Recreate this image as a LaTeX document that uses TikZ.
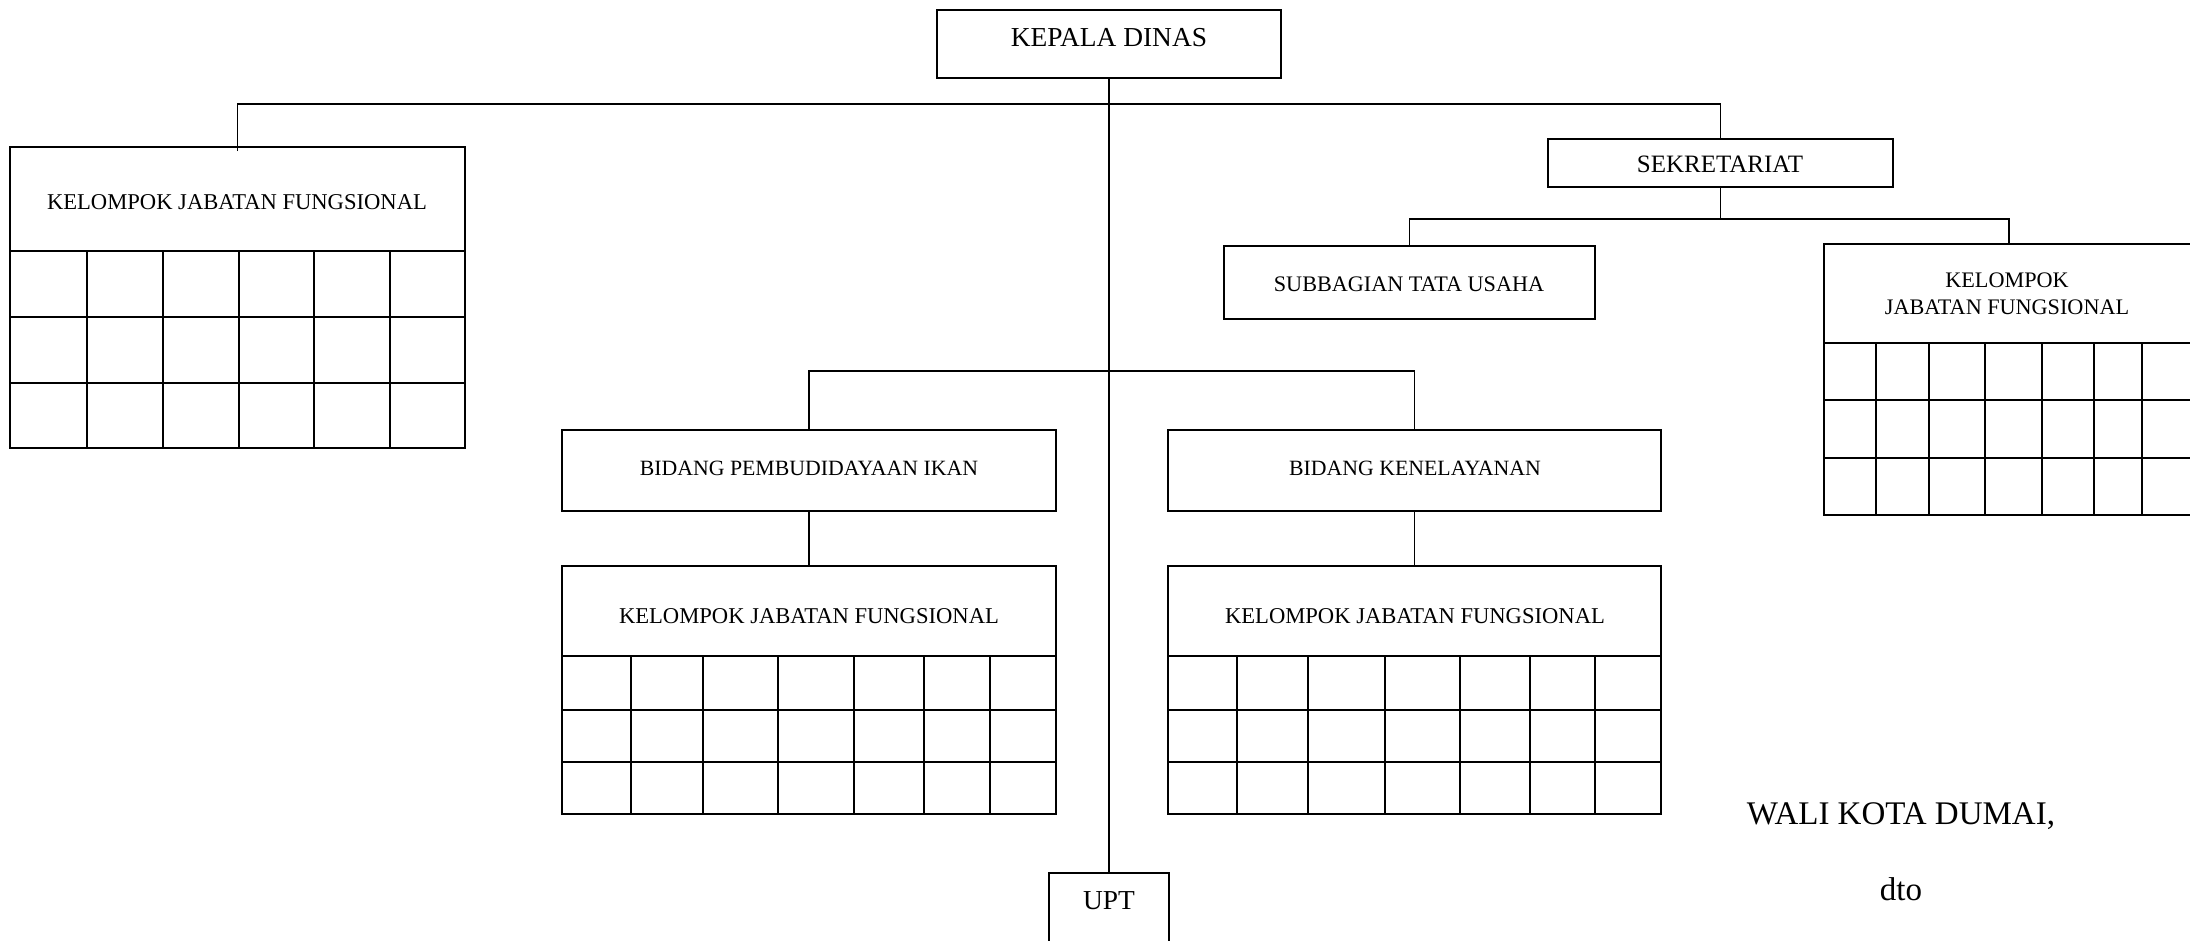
\documentclass[tikz,border=0pt]{standalone}
\usepackage{fontspec}
\setmainfont{Liberation Serif}
\usetikzlibrary{fit}
\begin{document}
\begin{tikzpicture}[x=0.5pt,y=-0.5pt,
  box/.style={draw, line width=0.8pt, inner sep=0pt},
  conn/.style={line width=0.7pt},
  gridline/.style={line width=0.8pt},
  fs/.style={font=\fontsize{#1}{13.5}\selectfont, align=center, inner sep=0pt},
]
\useasboundingbox (0,0) rectangle (2190,941);
\clip (0,0) rectangle (2190,941);

% --- boxes ---
\node[box, fit={(937,10)(1281,78)}] (kd) {};
\node[fs=13.7] (kdt) at (1109,38) {KEPALA DINAS};

\node[box, fit={(10,147)(465,251)}] (k1) {};
\node[fs=11.3] (k1t) at (237,202) {KELOMPOK JABATAN FUNGSIONAL};
\node[box, fit={(1548,139)(1893,187)}] (sek) {};
\node[fs=12.5] (sekt) at (1720,164) {SEKRETARIAT};
\node[box, fit={(1224,246)(1595,319)}] (sub) {};
\node[fs=11.1] (subt) at (1409,284) {SUBBAGIAN TATA USAHA};
\node[box, fit={(1824,244)(2194,343)}] (k2) {};
\node[fs=11.1] (k2t) at (2007,294) {KELOMPOK\\JABATAN FUNGSIONAL};
\node[box, fit={(562,430)(1056,511)}] (bp) {};
\node[fs=10.9] (bpt) at (809,468) {BIDANG PEMBUDIDAYAAN IKAN};
\node[box, fit={(1168,430)(1661,511)}] (bk) {};
\node[fs=10.9] (bkt) at (1415,468) {BIDANG KENELAYANAN};
\node[box, fit={(562,566)(1056,656)}] (k3) {};
\node[fs=11.3] (k3t) at (809,616) {KELOMPOK JABATAN FUNGSIONAL};
\node[box, fit={(1168,566)(1661,656)}] (k4) {};
\node[fs=11.3] (k4t) at (1415,616) {KELOMPOK JABATAN FUNGSIONAL};
\node[box, fit={(1049,873)(1169,950)}] (upt) {};
\node[fs=13.7] (uptt) at (1109,901) {UPT};

% --- grids ---
\draw[gridline] (10,251) rectangle (465,448);
\foreach \y in {317,383} \draw[gridline] (10,\y) -- (465,\y);
\foreach \x in {87,163,239,314,390} \draw[gridline] (\x,251) -- (\x,448);

\draw[gridline] (1824,343) rectangle (2194,515);
\foreach \y in {400,458} \draw[gridline] (1824,\y) -- (2194,\y);
\foreach \x in {1876,1929,1985,2042,2094,2142} \draw[gridline] (\x,343) -- (\x,515);

\draw[gridline] (562,656) rectangle (1056,814);
\foreach \y in {710,762} \draw[gridline] (562,\y) -- (1056,\y);
\foreach \x in {631,703,778,854,924,990} \draw[gridline] (\x,656) -- (\x,814);

\draw[gridline] (1168,656) rectangle (1661,814);
\foreach \y in {710,762} \draw[gridline] (1168,\y) -- (1661,\y);
\foreach \x in {1237,1308,1385,1460,1530,1595} \draw[gridline] (\x,656) -- (\x,814);

% --- connectors ---
\coordinate (bus1) at (0,104);
\coordinate (bus2) at (0,371);
\coordinate (bus3) at (0,219);
\draw[conn] (kd.south) -- (upt.north);
\draw[conn] ([yshift=-2.5pt]k1.north) -- (k1.north |- bus1) -- (sek.north |- bus1) -- (sek.north);
\draw[conn] (sek.south) -- (sek.south |- bus3);
\draw[conn] (sub.north) -- (sub.north |- bus3) -- (k2.north |- bus3) -- (k2.north);
\draw[conn] (bp.north) -- (bp.north |- bus2) -- (bk.north |- bus2) -- (bk.north);
\draw[conn] (bp.south) -- (k3.north);
\draw[conn] (bk.south) -- (k4.north);

% --- signature ---
\node[font=\fontsize{16.5}{19}\selectfont, anchor=base] (wali) at (1901,824) {WALI KOTA DUMAI,};
\node[font=\fontsize{16.5}{19}\selectfont, anchor=base] (dto) at (1901,900) {dto};
\end{tikzpicture}
\end{document}
